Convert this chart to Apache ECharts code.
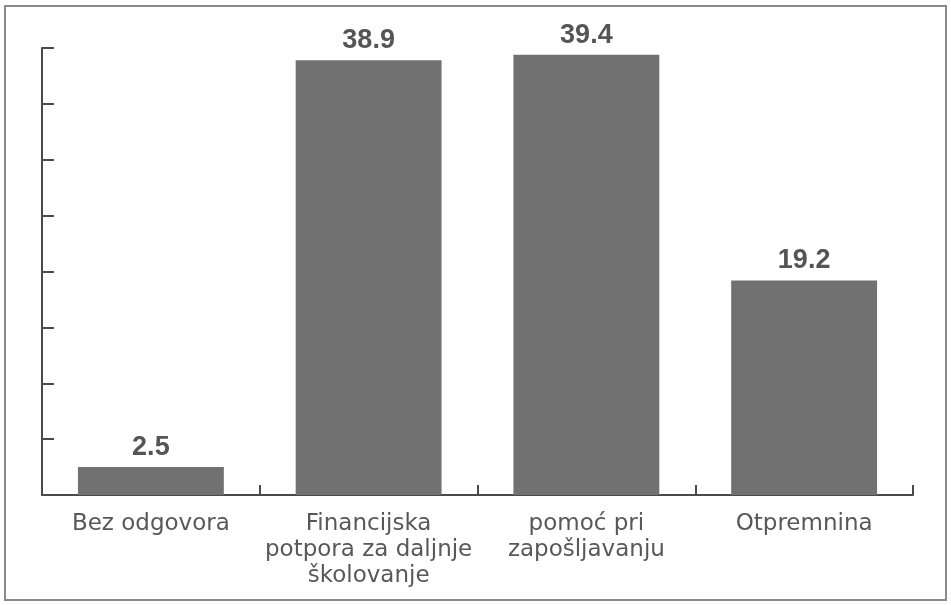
<!DOCTYPE html>
<html>
<head>
<meta charset="utf-8">
<script src="https://cdn.jsdelivr.net/npm/echarts@6/dist/echarts.min.js"></script>
<style>
html,body{margin:0;padding:0;background:#fff;}
#chart{width:951px;height:605px;}
</style>
</head>
<body>
<div id="chart"></div>
<script>
var categories = ['Bez odgovora', 'Financijska\npotpora za daljnje\nškolovanje', 'pomoć pri\nzapošljavanju', 'Otpremnina'];
var values = [2.5, 38.9, 39.4, 19.2];
var yMin = 0, yMax = 40, yInterval = 5;

var chart = echarts.init(document.getElementById('chart'));
chart.setOption({
  animation: false,
  backgroundColor: '#ffffff',
  graphic: [{
    type: 'rect',
    shape: { x: 5, y: 6, width: 941, height: 594 },
    style: { fill: 'none', stroke: '#8a8a8a', lineWidth: 2 }
  }],
  grid: { left: 42, right: 38, top: 48, bottom: 110, containLabel: false },
  xAxis: {
    type: 'category',
    data: categories,
    boundaryGap: true,
    axisLine: { lineStyle: { color: '#4a4a4a', width: 2 } },
    axisTick: { show: true, inside: true, length: 10, lineStyle: { color: '#4a4a4a', width: 2 } },
    axisLabel: {
      interval: 0,
      margin: 16,
      color: '#585858',
      fontFamily: 'DejaVu Sans',
      fontSize: 23,
      lineHeight: 26
    }
  },
  yAxis: {
    type: 'value',
    min: yMin, max: yMax, interval: yInterval,
    axisLine: { show: true, lineStyle: { color: '#4a4a4a', width: 2 } },
    axisTick: { show: true, inside: true, length: 12, lineStyle: { color: '#4a4a4a', width: 2 } },
    axisLabel: { show: false },
    splitLine: { show: false }
  },
  series: [{
    type: 'bar',
    data: values,
    barWidth: '67%',
    itemStyle: { color: '#717171' },
    label: {
      show: true,
      position: 'top',
      distance: 6,
      color: '#555555',
      fontFamily: 'Liberation Sans, Arial, sans-serif',
      fontWeight: 'bold',
      fontSize: 27,
      formatter: function (p) { return p.value.toFixed(1); }
    }
  }]
});
</script>
</body>
</html>
